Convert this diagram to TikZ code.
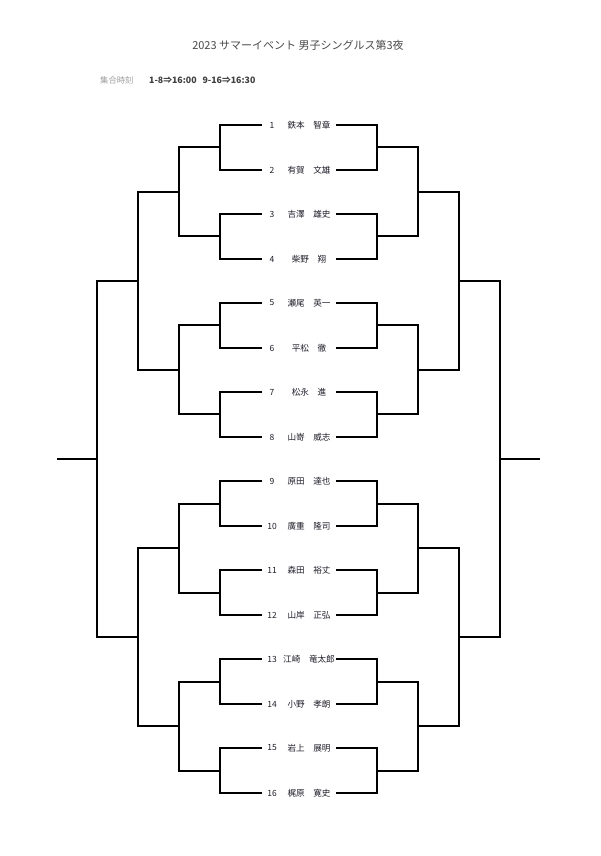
\documentclass[tikz,border=0pt]{standalone}
\usepackage{fontspec}
\setmainfont{Noto Sans CJK JP}
\definecolor{titlegray}{HTML}{4A4A4A}
\definecolor{labelgray}{HTML}{A0A0A0}
\definecolor{textdark}{HTML}{1E1E2A}
\begin{document}
\begin{tikzpicture}[x=1pt,y=-1pt,
  br/.style={line width=2pt, line join=miter, black},
  num/.style={inner sep=0pt, font=\fontsize{8.5}{10}\selectfont, text=textdark},
  nm/.style={inner sep=0pt, font=\fontsize{8.6}{10}\selectfont, text=textdark},
  ttl/.style={inner sep=0pt, font=\fontsize{11}{13}\selectfont, text=titlegray},
  lbl/.style={inner sep=0pt, font=\fontsize{8.3}{10}\selectfont, text=labelgray},
  tim/.style={inner sep=0pt, font=\fontsize{8.8}{10}\selectfont\bfseries, text=black!75}]
\useasboundingbox (0,0) rectangle (600,856);
\fill[white] (0,0) rectangle (600,856);
\node[ttl] (title) at (298,45) {2023 サマーイベント 男子シングルス第3夜};
\node[lbl, anchor=west] (lab) at (100,80) {集合時刻};
\node[tim, anchor=west] (time) at (149,80) {1-8⇒16:00\hspace{6pt}9-16⇒16:30};
\def\ya{125}\def\dy{44.533}
\foreach \i/\s/\g in {1/鉄本/智章,2/有賀/文雄,3/吉澤/雄史,4/柴野/翔,5/瀬尾/英一,6/平松/徹,7/松永/進,8/山嵜/威志,9/原田/達也,10/廣重/隆司,11/森田/裕丈,12/山岸/正弘,13/江崎/竜太郎,14/小野/孝朗,15/岩上/展明,16/梶原/寛史}{
  \pgfmathsetmacro\y{round(\ya+(\i-1)*\dy)}
  \node[num] (n\i) at (272,\y) {\i};
  \node[nm] (p\i) at (309,\y) {\s　\g};
  \coordinate (a\i) at (262,\y);
  \coordinate (b\i) at (336,\y);
}
% round 1
\foreach \k in {1,...,8}{
  \pgfmathtruncatemacro\i{2*\k-1}
  \pgfmathtruncatemacro\j{2*\k}
  \draw[br] (a\i) -- ++(-42,0) |- (a\j);
  \draw[br] (b\i) -- ++(41,0) |- (b\j);
}
% rounds 2-4
\foreach \r/\n/\xl/\xr in {2/4/220/377,3/2/179/418,4/1/138/459}{
  \foreach \k in {1,...,\n}{
    \pgfmathsetmacro\span{2^(\r-1)}
    \pgfmathsetmacro\yt{round(\ya+((2*\k-2)*\span + (\span-1)/2)*\dy)}
    \pgfmathsetmacro\yb{round(\ya+((2*\k-1)*\span + (\span-1)/2)*\dy)}
    \coordinate (lt\r\k) at (\xl,\yt);
    \coordinate (lb\r\k) at (\xl,\yb);
    \coordinate (rt\r\k) at (\xr,\yt);
    \coordinate (rb\r\k) at (\xr,\yb);
    \draw[br] (lt\r\k) -- ++(-41,0) |- (lb\r\k);
    \draw[br] (rt\r\k) -- ++(41,0) |- (rb\r\k);
  }
}
\coordinate (fl) at (97,459);
\coordinate (fr) at (500,459);
\draw[br] (fl) -- ++(-40,0);
\draw[br] (fr) -- ++(40,0);
\end{tikzpicture}
\end{document}
